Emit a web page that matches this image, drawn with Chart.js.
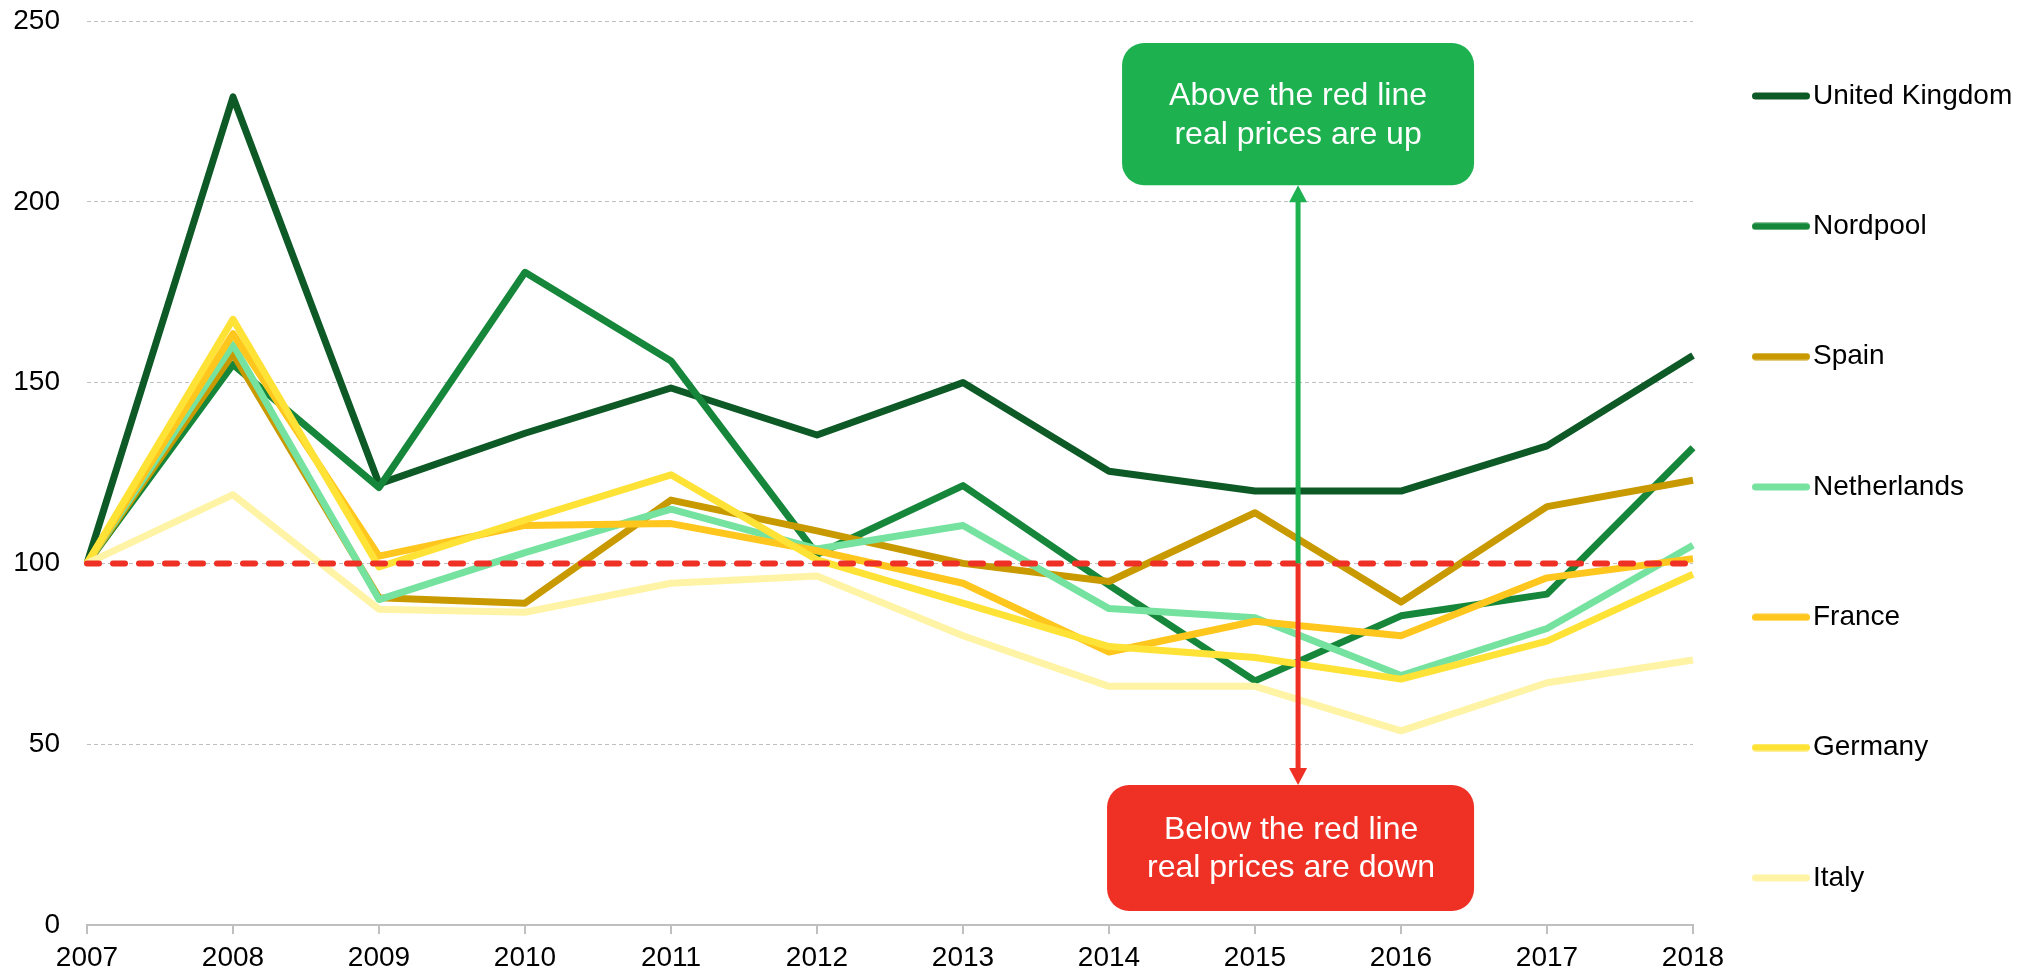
<!DOCTYPE html>
<html>
<head>
<meta charset="utf-8">
<script src="https://cdn.jsdelivr.net/npm/chart.js@4.4.1/dist/chart.umd.min.js"></script>
<style>
html,body{margin:0;padding:0;background:#fff;}
#wrap{width:2043px;height:974px;position:relative;}
</style>
</head>
<body>
<div id="wrap"><canvas id="c"></canvas></div>
<script>
// ---- data ----
const years = ['2007','2008','2009','2010','2011','2012','2013','2014','2015','2016','2017','2018'];
const countries = ['United Kingdom','Nordpool','Spain','Netherlands','France','Germany','Italy'];
const ukValues          = [100, 229, 122, 136, 148.5, 135.5, 150, 125.5, 120, 120, 132.5, 157.5];
const nordpoolValues    = [100, 155, 121, 180.5, 156, 102.5, 121.5, 94, 67.5, 85.5, 91.5, 132];
const spainValues       = [100, 158, 90.5, 89, 117.5, 109, 100, 95, 114, 89.3, 115.7, 123];
const netherlandsValues = [100, 160.5, 90, 103, 115, 104, 110.5, 87.5, 85, 69, 82, 105];
const franceValues      = [100, 163.5, 102, 110.5, 111, 103.5, 94.5, 75.5, 84, 80, 96, 101.3];
const germanyValues     = [100, 167.5, 99, 112, 124.5, 101, 89, 77, 74, 68, 78.5, 97];
const italyValues       = [100, 119, 87.3, 86.5, 94.5, 96.5, 80, 66, 66, 53.7, 67, 73.3];
const baselineValues    = [100, 100, 100, 100, 100, 100, 100, 100, 100, 100, 100, 100];
const yTickValues = [0, 50, 100, 150, 200, 250];
const aboveText = ['Above the red line', 'real prices are up'];
const belowText = ['Below the red line', 'real prices are down'];

// ---- styles ----
const seriesValues = [ukValues, nordpoolValues, spainValues, netherlandsValues, franceValues, germanyValues, italyValues];
const seriesColors = ['#0E5A27', '#16873A', '#C99A00', '#76E2A0', '#FFC61E', '#FFE236', '#FFF3A6'];
const RED = '#EE3124';
const GREEN = '#1DB14F';
const FONT = '"Liberation Sans", Arial, sans-serif';

Chart.defaults.font.family = FONT;
Chart.defaults.color = '#000';

function legendLine(color) {
  const c = document.createElement('canvas');
  c.width = 58; c.height = 8;
  const g = c.getContext('2d');
  g.strokeStyle = color; g.lineWidth = 7; g.lineCap = 'round';
  g.beginPath(); g.moveTo(3.5, 4); g.lineTo(54.5, 4); g.stroke();
  return c;
}

const datasets = countries.map((name, i) => ({
  label: name,
  data: seriesValues[i],
  borderColor: seriesColors[i],
  backgroundColor: seriesColors[i],
  borderWidth: 7,
  order: 10 - i
}));
datasets.push({
  label: 'baseline',
  data: baselineValues,
  borderColor: RED,
  backgroundColor: RED,
  borderWidth: 6,
  borderDash: [12, 14],
  borderCapStyle: 'round',
  order: 0
});

const annotationPlugin = {
  id: 'priceNotes',
  afterDatasetsDraw(chart) {
    const {ctx, scales: {x, y}} = chart;
    const x8 = x.getPixelForValue(8), x9 = x.getPixelForValue(9);
    const ax = x8 + 0.295 * (x9 - x8);
    const y100 = y.getPixelForValue(100);
    const gTop = y.getPixelForValue(243.9), gBot = y.getPixelForValue(204.6);
    const rTop = y.getPixelForValue(38.7), rBot = y.getPixelForValue(3.9);
    ctx.save();
    // arrows
    ctx.lineWidth = 5;
    ctx.strokeStyle = GREEN;
    ctx.beginPath(); ctx.moveTo(ax, y100); ctx.lineTo(ax, gBot + 14); ctx.stroke();
    ctx.fillStyle = GREEN;
    ctx.beginPath(); ctx.moveTo(ax, gBot); ctx.lineTo(ax - 9, gBot + 17); ctx.lineTo(ax + 9, gBot + 17); ctx.closePath(); ctx.fill();
    ctx.strokeStyle = RED;
    ctx.beginPath(); ctx.moveTo(ax, y100); ctx.lineTo(ax, rTop - 14); ctx.stroke();
    ctx.fillStyle = RED;
    ctx.beginPath(); ctx.moveTo(ax, rTop); ctx.lineTo(ax - 9, rTop - 17); ctx.lineTo(ax + 9, rTop - 17); ctx.closePath(); ctx.fill();
    // boxes
    ctx.fillStyle = GREEN;
    ctx.beginPath(); ctx.roundRect(ax - 176, gTop, 352, gBot - gTop, 22); ctx.fill();
    ctx.fillStyle = RED;
    ctx.beginPath(); ctx.roundRect(ax - 191, rTop, 367, rBot - rTop, 22); ctx.fill();
    // texts
    ctx.fillStyle = '#fff';
    ctx.font = '32px ' + FONT;
    ctx.textAlign = 'center';
    ctx.textBaseline = 'middle';
    const gc = (gTop + gBot) / 2 + 2;
    ctx.fillText(aboveText[0], ax, gc - 19.5);
    ctx.fillText(aboveText[1], ax, gc + 19.5);
    const rc = (rTop + rBot) / 2 + 1;
    ctx.fillText(belowText[0], ax - 7, rc - 19);
    ctx.fillText(belowText[1], ax - 7, rc + 19);
    ctx.restore();
  }
};

new Chart(document.getElementById('c'), {
  type: 'line',
  data: { labels: years, datasets },
  options: {
    responsive: true,
    maintainAspectRatio: false,
    animation: false,
    layout: { padding: { top: 12, right: 31, bottom: 0, left: 0 } },
    elements: {
      point: { radius: 0, hoverRadius: 0 },
      line: { tension: 0, borderJoinStyle: 'round', fill: false }
    },
    scales: {
      x: {
        type: 'category',
        offset: false,
        afterFit(scale) { scale.height = 49; },
        grid: { display: true, drawOnChartArea: false, drawTicks: true, tickLength: 9, color: '#BFBFBF', lineWidth: 2 },
        border: { display: true, color: '#BFBFBF', width: 2 },
        ticks: { color: '#000', font: { size: 28 }, padding: 7, maxRotation: 0, autoSkip: false }
      },
      y: {
        min: 0, max: 250,
        afterBuildTicks(scale) { scale.ticks = yTickValues.map(v => ({ value: v })); },
        afterFit(scale) { scale.width = 87; scale.paddingTop = 21; },
        grid: {
          drawTicks: false,
          lineWidth: 1,
          color: ctx => (ctx.tick && ctx.tick.value === 0) ? 'rgba(0,0,0,0)' : '#C0C0C0'
        },
        border: { display: false, dash: [4, 3] },
        ticks: { color: '#000', font: { size: 28 }, padding: 27 }
      }
    },
    plugins: {
      tooltip: { enabled: false },
      legend: {
        position: 'right',
        align: 'start',
        maxWidth: 319,
        labels: {
          color: '#000',
          font: { size: 28, lineHeight: 60.3 / 28 },
          padding: 70,
          usePointStyle: true,
          pointStyleWidth: 36,
          boxHeight: 7,
          generateLabels(chart) {
            return chart.data.datasets.slice(0, countries.length).map((ds, i) => ({
              text: i < countries.length - 1 ? [ds.label] : ds.label,
              fillStyle: ds.borderColor,
              strokeStyle: ds.borderColor,
              lineWidth: 0,
              pointStyle: legendLine(ds.borderColor),
              rotation: 0,
              hidden: false,
              datasetIndex: i,
              fontColor: '#000'
            }));
          }
        }
      }
    }
  },
  plugins: [annotationPlugin]
});
</script>
</body>
</html>
